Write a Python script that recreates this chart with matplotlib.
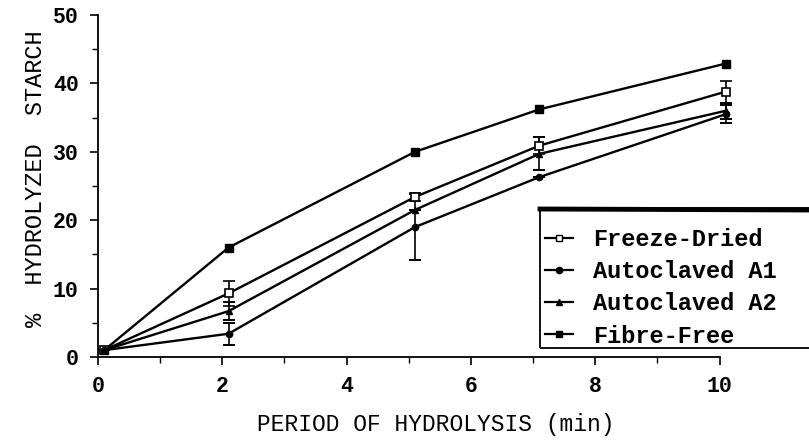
import matplotlib
matplotlib.use("Agg")
import matplotlib.pyplot as plt
from matplotlib.patches import Rectangle
from matplotlib.lines import Line2D

plt.rcParams['font.family'] = ['Liberation Mono', 'DejaVu Sans']

# sampling times (min)
time = [0.1, 2.1, 5.1, 7.1, 10.1]

# % hydrolyzed starch per sample, with error bars
freeze_dried = [1.0, 9.3, 23.4, 30.9, 38.8]
freeze_dried_err = [0, 1.8, 0.6, 1.2, 1.6]
autoclaved_a1 = [1.0, 3.4, 19.0, 26.3, 35.5]
autoclaved_a1_err = [0, 1.6, 4.8, 0, 1.3]
autoclaved_a2 = [1.0, 6.7, 21.5, 29.7, 36.0]
autoclaved_a2_err = [0, 1.3, 0, 2.4, 1.2]
fibre_free = [1.0, 16.0, 30.0, 36.2, 42.9]

labels = ["Freeze-Dried", "Autoclaved A1", "Autoclaved A2", "Fibre-Free"]

fig = plt.figure(figsize=(8.09, 4.43), dpi=100)
ax = fig.add_axes([98 / 809, 86 / 443, 634 / 809, 342 / 443])

common = dict(color='black', lw=1.7, capsize=4, elinewidth=1.2, capthick=1.4)
ax.errorbar(time, freeze_dried, yerr=freeze_dried_err, marker='s', ms=6,
            mfc='white', mec='black', mew=1.2, **common)
ax.errorbar(time, autoclaved_a1, yerr=autoclaved_a1_err, marker='o', ms=4.5,
            **common)
ax.errorbar(time, autoclaved_a2, yerr=autoclaved_a2_err, marker='^', ms=5,
            **common)
ax.plot(time, fibre_free, color='black', lw=1.7, marker='s', ms=6)

ax.set_xlim(0, 10.2)
ax.set_ylim(0, 50)
ax.spines['top'].set_visible(False)
ax.spines['right'].set_visible(False)
ax.spines['bottom'].set_bounds(0, 10)
for s in ['left', 'bottom']:
    ax.spines[s].set_linewidth(1.3)

ax.set_xticks([0, 2, 4, 6, 8, 10])
ax.set_xticks([1, 3, 5, 7, 9], minor=True)
ax.set_yticks([0, 10, 20, 30, 40, 50])
ax.set_yticks([5, 15, 25, 35, 45], minor=True)
ax.tick_params(which='major', length=6, width=1.2, labelsize=15.5, pad=8)
ax.tick_params(which='minor', length=4, width=1.0)
for t in ax.get_xticklabels() + ax.get_yticklabels():
    t.set_fontweight('bold')

ax.set_xlabel("PERIOD OF HYDROLYSIS (min)", fontsize=16.5)
ax.set_ylabel("%  HYDROLYZED  STARCH", fontsize=17)
ax.xaxis.set_label_coords(0.532, -0.165)
ax.yaxis.set_label_coords(-0.080, 0.52)

# legend box, runs off the right edge like the scan
fig.patches.append(Rectangle((540 / 809, 95 / 443), 300 / 809, 140 / 443,
                             transform=fig.transFigure, fill=False,
                             lw=1.3, ec='black'))
fig.lines.append(Line2D([540 / 809, 1.0], [234 / 443, 233 / 443],
                        transform=fig.transFigure, color='black', lw=3.5))

handles = [
    Line2D([], [], color='black', lw=1.6, marker='s', ms=5, mfc='white'),
    Line2D([], [], color='black', lw=1.6, marker='o', ms=4.5),
    Line2D([], [], color='black', lw=1.6, marker='^', ms=5),
    Line2D([], [], color='black', lw=1.6, marker='s', ms=5),
]
leg = fig.legend(handles, labels, loc='upper left',
                 bbox_to_anchor=(545 / 809, 215 / 443), frameon=False,
                 prop={'size': 17, 'weight': 'bold'}, handlelength=1.2,
                 handletextpad=0.85, labelspacing=0.39, borderpad=0,
                 borderaxespad=0)

fig.savefig("out.png", dpi=100)
